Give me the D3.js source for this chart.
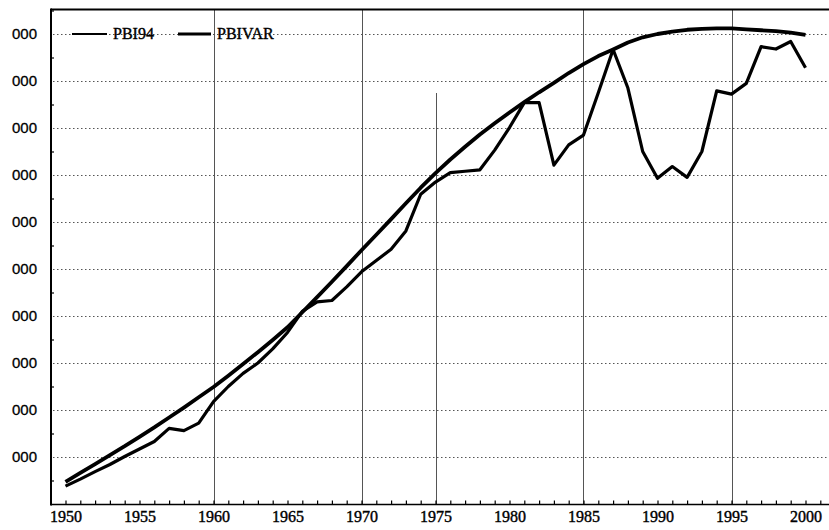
<!DOCTYPE html>
<html>
<head>
<meta charset="utf-8">
<script src="https://cdn.jsdelivr.net/npm/d3@7/dist/d3.min.js"></script>
<style>
  body { margin: 0; background: #fff; }
  svg { display: block; }
</style>
</head>
<body>
<svg id="chart" width="829" height="530"></svg>
<script>
const years = [1950, 1951, 1952, 1953, 1954, 1955, 1956, 1957, 1958, 1959,
  1960, 1961, 1962, 1963, 1964, 1965, 1966, 1967, 1968, 1969,
  1970, 1971, 1972, 1973, 1974, 1975, 1976, 1977, 1978, 1979,
  1980, 1981, 1982, 1983, 1984, 1985, 1986, 1987, 1988, 1989,
  1990, 1991, 1992, 1993, 1994, 1995, 1996, 1997, 1998, 1999, 2000]

// actual series (jagged)
const pbi94 = [0.38, 0.53, 0.69, 0.84, 1.01, 1.17, 1.33, 1.61, 1.56, 1.72,
  2.18, 2.50, 2.78, 3.00, 3.30, 3.65, 4.10, 4.30, 4.33, 4.62,
  4.94, 5.18, 5.42, 5.81, 6.59, 6.85, 7.05, 7.08, 7.11, 7.53,
  8.01, 8.54, 8.54, 7.21, 7.64, 7.85, 8.75, 9.67, 8.85, 7.50,
  6.93, 7.18, 6.95, 7.50, 8.79, 8.72, 8.95, 9.73, 9.68, 9.84, 9.28]

// smooth series
const pbiVar = [0.47, 0.66, 0.85, 1.04, 1.23, 1.43, 1.63, 1.84, 2.05, 2.27,
  2.49, 2.73, 2.98, 3.23, 3.49, 3.76, 4.08, 4.40, 4.73, 5.06,
  5.40, 5.73, 6.06, 6.40, 6.73, 7.04, 7.33, 7.60, 7.86, 8.10,
  8.33, 8.55, 8.76, 8.96, 9.17, 9.36, 9.53, 9.67, 9.82, 9.93,
  10.00, 10.05, 10.09, 10.11, 10.12, 10.12, 10.10, 10.08, 10.06, 10.03, 9.98]

const seriesNames = ["PBI94", "PBIVAR"]
const yTicks = [1, 2, 3, 4, 5, 6, 7, 8, 9, 10]
const yTickLabels = ["000", "000", "000", "000", "000", "000", "000", "000", "000", "000"]
const labelYears = [1950, 1955, 1960, 1965, 1970, 1975, 1980, 1985, 1990, 1995, 2000]
const gridYears = [1960, 1970, 1975, 1985, 1995]

const plotLeft = 51, plotTop = 9.5, plotBottom = 504.5, plotRight = 829

const x = d3.scaleLinear().domain([1950, 2000]).range([65.5, 805.5])
const y = d3.scaleLinear().domain([0, 10]).range([504, 34])

const svg = d3.select("#chart")

// horizontal dotted grid
svg.append("g")
  .selectAll("line")
  .data(yTicks)
  .join("line")
  .attr("x1", plotLeft + 2)
  .attr("x2", plotRight)
  .attr("y1", d => Math.round(y(d)) + 0.5)
  .attr("y2", d => Math.round(y(d)) + 0.5)
  .attr("stroke", "#555")
  .attr("stroke-width", 1)
  .attr("stroke-dasharray", "1.5,2.5")

// vertical grid lines
svg.append("g")
  .selectAll("line")
  .data(gridYears)
  .join("line")
  .attr("x1", d => Math.round(x(d)) + 0.5)
  .attr("x2", d => Math.round(x(d)) + 0.5)
  .attr("y1", d => d === 1975 ? 93 : plotTop)
  .attr("y2", plotBottom)
  .attr("stroke", "#555")
  .attr("stroke-width", 1)

// minor ticks on x axis (every year)
const xTicks = svg.append("g")
  .attr("transform", `translate(0,${plotBottom})`)
  .call(d3.axisBottom(x)
    .tickValues(d3.range(1950, 2002))
    .tickSize(-4)
    .tickFormat(""))
xTicks.select(".domain").remove()
xTicks.selectAll("line").attr("stroke", "#000").attr("stroke-width", 1.2)

// x labels
const xLabels = svg.append("g")
  .attr("transform", `translate(0,${plotBottom})`)
  .call(d3.axisBottom(x)
    .tickValues(labelYears)
    .tickSize(0)
    .tickPadding(6)
    .tickFormat(d3.format("d")))
xLabels.select(".domain").remove()
xLabels.selectAll("text")
  .attr("font-family", "'Liberation Serif', 'Times New Roman', serif")
  .attr("font-size", 16)
  .attr("fill", "#000")
  .attr("stroke", "#000")
  .attr("stroke-width", 0.4)

// y labels
const yLabels = svg.append("g")
  .attr("transform", `translate(${plotLeft},0)`)
  .call(d3.axisLeft(y)
    .tickValues(yTicks)
    .tickSize(0)
    .tickPadding(14)
    .tickFormat((d, i) => yTickLabels[i]))
yLabels.select(".domain").remove()
yLabels.selectAll("text")
  .attr("font-family", "'Liberation Sans', Arial, sans-serif")
  .attr("font-size", 15)
  .attr("fill", "#000")
  .attr("stroke", "#000")
  .attr("stroke-width", 0.3)

// minor ticks on y axis
const yMinor = svg.append("g")
  .attr("transform", `translate(${plotLeft},0)`)
  .call(d3.axisRight(y)
    .tickValues([0.5, 1.5, 2.5, 3.5, 4.5, 5.5, 6.5, 7.5, 8.5, 9.5, 10.5])
    .tickSize(3)
    .tickFormat(""))
yMinor.select(".domain").remove()
yMinor.selectAll("line").attr("stroke", "#000").attr("stroke-width", 1.2)

// frame
svg.append("line").attr("x1", plotLeft).attr("x2", plotLeft).attr("y1", plotTop - 1).attr("y2", plotBottom + 1)
  .attr("stroke", "#000").attr("stroke-width", 2)
svg.append("line").attr("x1", plotLeft).attr("x2", plotRight).attr("y1", plotTop).attr("y2", plotTop)
  .attr("stroke", "#000").attr("stroke-width", 2)
svg.append("line").attr("x1", plotLeft).attr("x2", plotRight).attr("y1", plotBottom).attr("y2", plotBottom)
  .attr("stroke", "#000").attr("stroke-width", 1.6)

// series
const line = d3.line()
  .x((d, i) => x(years[i]))
  .y(d => y(d))

svg.append("path")
  .datum(pbi94)
  .attr("d", line)
  .attr("fill", "none")
  .attr("stroke", "#000")
  .attr("stroke-width", 3.2)
  .attr("stroke-linejoin", "round")

svg.append("path")
  .datum(pbiVar)
  .attr("d", line)
  .attr("fill", "none")
  .attr("stroke", "#000")
  .attr("stroke-width", 3.8)
  .attr("stroke-linejoin", "round")

// legend
const legend = svg.append("g")
  .attr("font-family", "'Liberation Serif', 'Times New Roman', serif")
  .attr("font-size", 16)

const legendItems = [
  {name: seriesNames[0], x1: 72, x2: 107, tx: 113, w: 2},
  {name: seriesNames[1], x1: 178, x2: 211, tx: 217, w: 3}
]
legendItems.forEach(item => {
  legend.append("line")
    .attr("x1", item.x1).attr("x2", item.x2)
    .attr("y1", y(10)).attr("y2", y(10))
    .attr("stroke", "#000")
    .attr("stroke-width", item.w)
  legend.append("text")
    .attr("x", item.tx)
    .attr("y", y(10) + 5)
    .attr("fill", "#000")
    .attr("stroke", "#000")
    .attr("stroke-width", 0.4)
    .text(item.name)
})
</script>
</body>
</html>
